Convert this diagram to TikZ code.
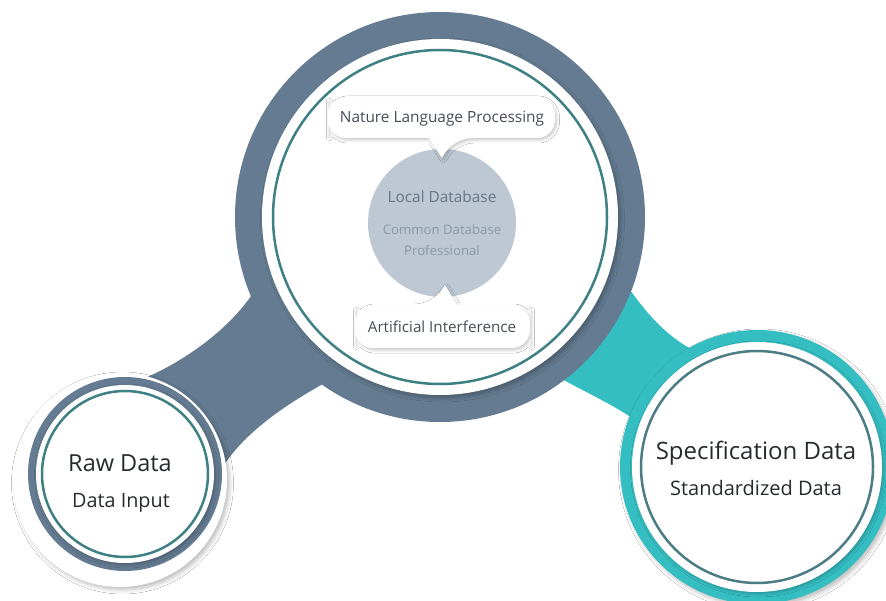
\documentclass[tikz,border=0pt]{standalone}
\usepackage{fontspec}
\setmainfont{Open Sans}
\usetikzlibrary{shadows.blur}
\definecolor{slate}{HTML}{647B91}
\definecolor{tealband}{HTML}{35BEC2}
\definecolor{ringteal}{HTML}{3F8084}
\definecolor{ringslate}{HTML}{4C7C84}
\definecolor{dbfill}{HTML}{BDC8D2}
\definecolor{dbtext}{HTML}{66778B}
\definecolor{dbsub}{HTML}{8A99A9}
\definecolor{bubtext}{HTML}{454E5A}
\definecolor{darktext}{HTML}{272B30}
\tikzset{
  sh/.style={blur shadow={shadow xshift=2.5pt, shadow yshift=-3pt, shadow blur radius=4pt, shadow opacity=25}},
  shsoft/.style={blur shadow={shadow xshift=1.5pt, shadow yshift=-2pt, shadow blur radius=3pt, shadow opacity=22}},
  bubble/.style={fill=white, shsoft},
  ring/.style={line width=2.5pt},
  lbl/.style={inner sep=0pt, anchor=base},
}
\newcommand{\fs}[1]{\fontsize{#1}{#1}\selectfont}
\begin{document}
\begin{tikzpicture}[x=1pt,y=-1pt]
\useasboundingbox (0,0) rectangle (886,601);
\clip (0,0) rectangle (886,601);
\fill[white] (0,0) rectangle (886,601);
% connector bands
\fill[tealband] (630,290) .. controls (648,315) and (668,338) .. (697,352)
  -- (635,420) .. controls (612,404) and (585,392) .. (560,378) -- cycle;
\fill[slate] (140,380) .. controls (185,362) and (232,327) .. (255,290)
  -- (330,380) .. controls (290,402) and (246,430) .. (222,468) -- cycle;
% big circle
\coordinate (big) at (440,217);
\fill[slate] (big) circle[radius=205pt];
\fill[white, sh] (big) circle[radius=178pt];
\draw[ringteal, ring] (big) circle[radius=167pt];
\fill[dbfill] (442,223) circle[radius=74pt];
% bubbles
\path[bubble] [rounded corners=18pt] (328,117.5) |- (555,97) |- (454,138)
  [sharp corners] -- (442,158) -- (429,138) [rounded corners=18pt] -| cycle;
\path[bubble] [rounded corners=18pt] (355,326.5) |- (432,305)
  [sharp corners] -- (445,285) -- (457,305) [rounded corners=18pt] -| (530,326.5)
  |- (355,348) -- cycle;
\node[lbl, text=bubtext] (nlp) at (442,123) {\fs{15.4}Nature Language Processing};
\node[lbl, text=bubtext] (ai) at (442,333) {\fs{15.2}Artificial Interference};
\node[lbl, text=dbtext] (local) at (442,203) {\fs{15.4}Local Database};
\node[lbl, text=dbsub] (common) at (442,235) {\fs{13.2}Common Database};
\node[lbl, text=dbsub] (prof) at (442,256) {\fs{13.2}Professional};
% left circle
\coordinate (left) at (125,474);
\fill[white, sh] (120,480) circle[radius=107pt];
\fill[slate] (left) circle[radius=97pt];
\fill[white, shsoft] (left) circle[radius=89pt];
\draw[ringteal, ring] (left) circle[radius=83pt];
\node[lbl, text=darktext] (raw) at (120,471) {\fs{23.5}Raw Data};
\node[lbl, text=darktext] (rawsub) at (121,507) {\fs{19.8}Data Input};
% right circle
\coordinate (right) at (757,467);
\fill[tealband, sh] (right) circle[radius=137pt];
\fill[white, shsoft] (right) circle[radius=125pt];
\draw[ringslate, ring] (right) circle[radius=116pt];
\node[lbl, text=darktext] (spec) at (756,459) {\fs{24}Specification Data};
\node[lbl, text=darktext] (specsub) at (756,495) {\fs{20}Standardized Data};
\end{tikzpicture}
\end{document}
